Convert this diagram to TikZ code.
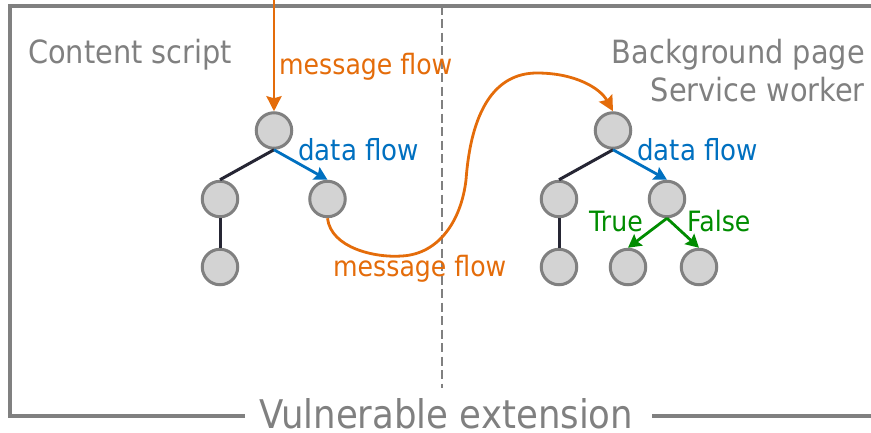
\documentclass[tikz,border=0pt]{standalone}
\usepackage{fontspec}
\setmainfont{DejaVu Sans}[FakeStretch=0.9]
\usetikzlibrary{arrows.meta}

\definecolor{framegray}{RGB}{128,128,128}
\definecolor{nodefill}{RGB}{211,211,211}
\definecolor{msgorange}{RGB}{228,108,10}
\definecolor{datablue}{RGB}{0,112,192}
\definecolor{branchgreen}{RGB}{0,140,0}
\definecolor{edgedark}{RGB}{38,38,52}

\begin{document}
\begin{tikzpicture}[x=1pt,y=-1pt,
  vertex/.style={circle,draw=framegray,fill=nodefill,line width=3pt,
    minimum size=35.5pt,inner sep=0pt},
  framebox/.style={draw=framegray,line width=4pt},
  divider/.style={draw=framegray,line width=2.2pt,dash pattern=on 9pt off 4.5pt},
  plainedge/.style={draw=edgedark,line width=3pt},
  dataedge/.style={draw=datablue,line width=2.8pt,
    -{Stealth[length=13pt,width=14pt,inset=2pt]}},
  branchedge/.style={draw=branchgreen,line width=2.8pt,
    -{Stealth[length=13pt,width=14pt,inset=2pt]}},
  msgedge/.style={draw=msgorange,line width=2.8pt,
    -{Stealth[length=15pt,width=15pt,inset=2pt]}},
  lbl/.style={inner sep=0pt},
  sectlabel/.style={lbl,text=framegray,font=\fontsize{32}{38}\selectfont},
  msglabel/.style={lbl,text=msgorange,font=\fontsize{28}{34}\selectfont},
  datalabel/.style={lbl,text=datablue,font=\fontsize{29}{34}\selectfont},
  branchlabel/.style={lbl,text=branchgreen,font=\fontsize{28}{33}\selectfont},
  titlelabel/.style={lbl,text=framegray,font=\fontsize{39.5}{46}\selectfont},
]
\useasboundingbox (0,0) rectangle (871,432);
\clip (0,0) rectangle (871,432);

% outer frame (open on the right) with the title set into its bottom edge
\node[titlelabel,anchor=base west] (title) at (259,428) {Vulnerable extension};
\draw[framebox] (245,416) -- (10,416) -- (10,5.5) -- (876,5.5);
\draw[framebox] (876,416) -- (652,416);

% separator between the two contexts
\coordinate (divtop) at (442,5.5);
\coordinate (divbot) at (442,388);
\draw[divider] (divtop) -- (divbot);

% section captions
\node[sectlabel,anchor=base west] (cs) at (28,63) {Content script};
\node[sectlabel,anchor=base east] (bg) at (865,63) {Background page};
\node[sectlabel,anchor=base east] (sw) at (865,101) {Service worker};

% content script tree
\node[vertex] (l0) at (274,130.5) {};
\node[vertex] (l1) at (220,199) {};
\node[vertex] (l2) at (327.5,199) {};
\node[vertex] (l3) at (220,267) {};

% background tree
\node[vertex] (r0) at (613,130.5) {};
\node[vertex] (r1) at (559,199) {};
\node[vertex] (r2) at (667,199) {};
\node[vertex] (r3) at (559,267) {};
\node[vertex] (r4) at (628,267) {};
\node[vertex] (r5) at (699,267) {};

% tree edges
\draw[plainedge] (l0.south) -- (l1.north);
\draw[plainedge] (l1.south) -- (l3.north);
\draw[dataedge] (l0.south) -- (l2.north);
\draw[plainedge] (r0.south) -- (r1.north);
\draw[plainedge] (r1.south) -- (r3.north);
\draw[dataedge] (r0.south) -- (r2.north);
\draw[branchedge] (r2.south) -- (r4.north);
\draw[branchedge] (r2.south) -- (r5.north);

% message flows
\coordinate (msgin) at (274,-2);
\draw[msgedge] (msgin) -- (l0.north);
\draw[msgedge] (l2.south)
  .. controls (331,248) and (375,258) .. (402,256)
  .. controls (438,254) and (461,222) .. (466,180)
  .. controls (471,112) and (494,73) .. (537,73)
  .. controls (575,73) and (600,88) .. (r0.north);

% labels
\node[msglabel,anchor=base west] (mtop) at (279,74) {message flow};
\node[msglabel,anchor=base west] (mbot) at (333,276) {message flow};
\node[datalabel,anchor=base west] (dl) at (298,160) {data flow};
\node[datalabel,anchor=base west] (dr) at (637,160) {data flow};
\node[branchlabel,anchor=base west] (tl) at (589,231) {True};
\node[branchlabel,anchor=base west] (fl) at (687,231) {False};
\end{tikzpicture}
\end{document}
